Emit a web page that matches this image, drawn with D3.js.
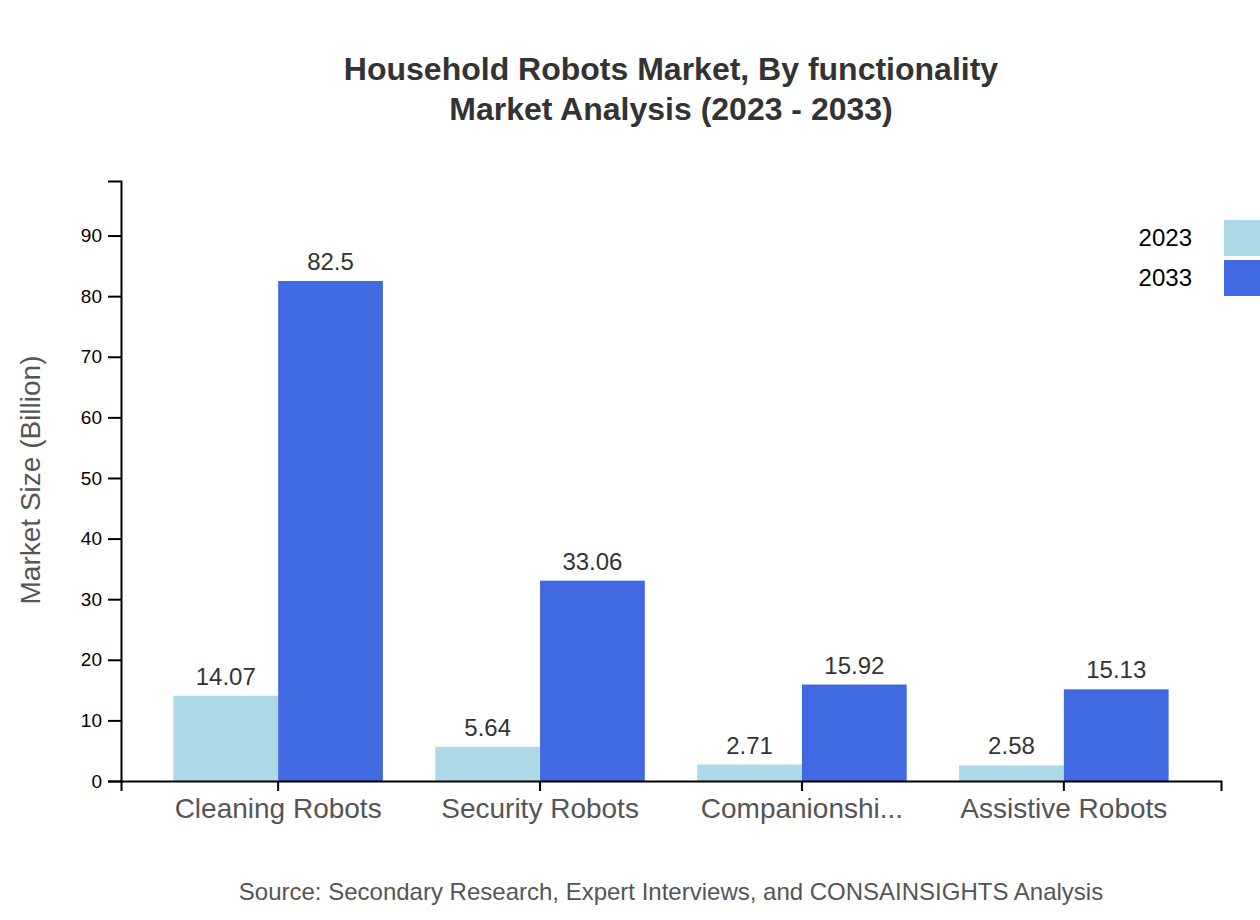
<!DOCTYPE html>
<html>
<head>
<meta charset="utf-8">
<script src="https://cdn.jsdelivr.net/npm/d3@7"></script>
<style>
  body { margin: 0; background: #fff; }
  text { font-family: "Liberation Sans", Arial, sans-serif; }
</style>
</head>
<body>
<div id="chart"></div>
<script>
// data
const categories = ['Cleaning Robots', 'Security Robots', 'Companionship Robots', 'Assistive Robots'];
const years = ['2023', '2033'];
const values2023 = [14.07, 5.64, 2.71, 2.58];
const values2033 = [82.5, 33.06, 15.92, 15.13];
const yTicks = [0, 10, 20, 30, 40, 50, 60, 70, 80, 90];

const colors = ['#ADD8E6', '#4169E1'];

const width = 1260;
const height = 920;
const margin = { top: 181, right: 39, bottom: 139, left: 121 };
const centerX = (margin.left + width - margin.right) / 2;

const rows = categories.map((c, i) => ({ cat: c, vals: [values2023[i], values2033[i]] }));

const svg = d3.select('#chart')
    .append('svg')
    .attr('width', width)
    .attr('height', height);

// scales
const x = d3.scaleBand()
    .domain(categories)
    .range([margin.left, width - margin.right])
    .padding(0.2);

const xSub = d3.scaleBand()
    .domain(years)
    .range([0, x.bandwidth()]);

const y = d3.scaleLinear()
    .domain([0, d3.max(values2033) * 1.2])
    .range([height - margin.bottom, margin.top]);

// title
const title = svg.append('text')
    .attr('text-anchor', 'middle')
    .attr('fill', '#333')
    .style('font-size', '32px')
    .style('font-weight', 'bold');
title.append('tspan').attr('x', centerX).attr('y', 80).text('Household Robots Market, By functionality');
title.append('tspan').attr('x', centerX).attr('y', 120).text('Market Analysis (2023 - 2033)');

// bars
const groups = svg.selectAll('.grp')
    .data(rows)
    .join('g')
    .attr('class', 'grp')
    .attr('transform', d => `translate(${x(d.cat)},0)`);

groups.selectAll('rect')
    .data(d => d.vals.map((v, i) => ({ year: years[i], val: v })))
    .join('rect')
    .attr('x', d => xSub(d.year))
    .attr('y', d => y(d.val))
    .attr('width', xSub.bandwidth())
    .attr('height', d => y(0) - y(d.val))
    .attr('fill', (d, i) => colors[i]);

groups.selectAll('.val')
    .data(d => d.vals.map((v, i) => ({ year: years[i], val: v })))
    .join('text')
    .attr('class', 'val')
    .attr('x', d => xSub(d.year) + xSub.bandwidth() / 2)
    .attr('y', d => y(d.val) - 11)
    .attr('text-anchor', 'middle')
    .attr('fill', '#333')
    .style('font-size', '24px')
    .text(d => d.val);

// axes
const xAxis = d3.axisBottom(x)
    .tickSize(10)
    .tickFormat(d => d.length > 16 ? d.slice(0, 12) + '...' : d);

const yAxis = d3.axisLeft(y)
    .tickValues(yTicks)
    .tickSize(13)
    .tickPadding(6);

const gx = svg.append('g')
    .attr('transform', `translate(0,${height - margin.bottom})`)
    .call(xAxis);
gx.selectAll('text')
    .attr('y', 37)
    .attr('dy', 0)
    .attr('fill', '#555')
    .style('font-size', '28px');

const gy = svg.append('g')
    .attr('transform', `translate(${margin.left},0)`)
    .call(yAxis);
gy.selectAll('text')
    .attr('fill', '#000')
    .style('font-size', '19px');

svg.selectAll('.domain, .tick line')
    .attr('stroke', '#000')
    .attr('stroke-width', 2);

// y label
svg.append('text')
    .attr('transform', 'translate(40,480) rotate(-90)')
    .attr('text-anchor', 'middle')
    .attr('fill', '#555')
    .style('font-size', '28px')
    .text('Market Size (Billion)');

// legend
const legend = svg.selectAll('.leg')
    .data(years)
    .join('g')
    .attr('class', 'leg')
    .attr('transform', (d, i) => `translate(1224,${220 + i * 40})`);
legend.append('rect')
    .attr('width', 36)
    .attr('height', 36)
    .attr('fill', (d, i) => colors[i]);
legend.append('text')
    .attr('x', -32)
    .attr('y', 18)
    .attr('dy', '0.35em')
    .attr('text-anchor', 'end')
    .attr('fill', '#000')
    .style('font-size', '24px')
    .text(d => d);

// source
svg.append('text')
    .attr('x', centerX)
    .attr('y', 900)
    .attr('text-anchor', 'middle')
    .attr('fill', '#555')
    .style('font-size', '24px')
    .text('Source: Secondary Research, Expert Interviews, and CONSAINSIGHTS Analysis');
</script>
</body>
</html>
